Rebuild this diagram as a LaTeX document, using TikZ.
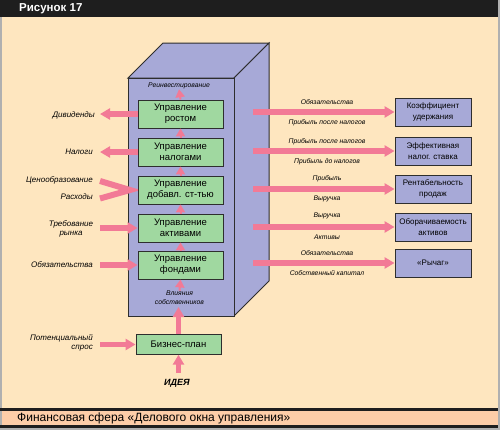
\documentclass[tikz,border=0pt]{standalone}
\usepackage{fontspec}
\setmainfont{Liberation Sans}
\usetikzlibrary{arrows.meta}
\definecolor{peach}{HTML}{FEE6BF}
\definecolor{band}{HTML}{FDCDA8}
\definecolor{lav}{HTML}{A7A9D7}
\definecolor{grn}{HTML}{A0D8A0}
\definecolor{pinkc}{HTML}{F27A96}
\definecolor{edge}{HTML}{2E2E2E}
\definecolor{bar}{HTML}{1E1E1E}
\definecolor{rim}{HTML}{B0B0B0}
\begin{document}
\begin{tikzpicture}[x=1pt,y=-1pt,
  greenbox/.style={draw=edge, fill=grn, line width=0.9pt, minimum width=85pt, minimum height=28pt, inner sep=0pt, align=center, font=\fontsize{9.5}{11}\selectfont},
  bluebox/.style={draw=edge, fill=lav, line width=0.9pt, minimum width=76pt, minimum height=28pt, inner sep=0pt, align=center, font=\fontsize{8}{11}\selectfont},
  bigarrow/.style={draw=pinkc, line width=5.5pt, -{Triangle[width=11pt,length=10pt]}},
  smallarrow/.style={draw=pinkc, line width=2pt, -{Triangle[width=9pt,length=8pt]}},
  lbl/.style={font=\fontsize{8}{9}\selectfont\itshape, inner sep=0pt},
  rlbl/.style={font=\fontsize{6.8}{8.5}\selectfont\itshape, inner sep=0pt},
]
\useasboundingbox (0,0) rectangle (500,432);
% background frame
\fill[white] (0,0) rectangle (500,432);
\fill[rim] (0,0) rectangle (500,430);
\fill[peach] (1.5,17) rectangle (498,408);
\fill[bar] (0,0) rectangle (498,17);
\fill[bar] (0,408) rectangle (498,411);
\fill[band] (1.5,411) rectangle (498,425);
\fill[bar] (0,425) rectangle (498,428);
\node[anchor=west, text=white, inner sep=0pt, font=\bfseries\fontsize{11.5}{12}\selectfont] (title) at (19,9) {Рисунок 17};
\node[anchor=west, inner sep=0pt, font=\fontsize{12}{13}\selectfont] (caption) at (17,418.5) {Финансовая сфера «Делового окна управления»};

% cuboid
\filldraw[fill=lav, draw=edge, line width=1pt, line join=miter] (128,78) -- (163,43) -- (269,43) -- (234,78) -- cycle;
\filldraw[fill=lav, draw=edge, line width=1pt, line join=miter] (234,78) -- (269,43) -- (269,281) -- (234,316) -- cycle;
\filldraw[fill=lav, draw=edge, line width=1pt] (128,78) rectangle (234,316);

% converging arms (drawn under the boxes)
\coordinate (vc1) at (100,181);
\coordinate (vc2) at (100,198.5);
\coordinate (vtip) at (130,190);
\draw[pinkc, line width=6pt, line join=miter, miter limit=20] (vc1) -- (vtip) -- (vc2);

% green boxes
\node[greenbox] (g1) at (180.5,114) {Управление\\ростом};
\node[greenbox] (g2) at (180.5,152) {Управление\\налогами};
\node[greenbox] (g3) at (180.5,190) {Управление\\добавл. ст-тью};
\node[greenbox] (g4) at (180.5,228) {Управление\\активами};
\node[greenbox] (g5) at (180.5,265) {Управление\\фондами};
\node[greenbox, minimum height=19.5pt] (bp) at (178.5,344.5) {Бизнес-план};

% inner labels
\node[rlbl] (reinv) at (179,86) {Реинвестирование};
\node[rlbl, align=center] (vlian) at (179.5,297.5) {Влияния\\собственников};

% small up arrows
\draw[smallarrow] (g1.north) -- (reinv.south);
\draw[smallarrow] (g2.north) -- (g1.south);
\draw[smallarrow] (g3.north) -- (g2.south);
\draw[smallarrow] (g4.north) -- (g3.south);
\draw[smallarrow] (g5.north) -- (g4.south);
\draw[smallarrow] (vlian.north) -- (g5.south);

% bottom
\coordinate (bptip) at (178.5,307);
\draw[bigarrow] (bp.north) -- (bptip);
\node[font=\bfseries\itshape\fontsize{9}{10}\selectfont, inner sep=0pt] (idea) at (177,383) {ИДЕЯ};
\coordinate (ideatop) at (178.5,373);
\draw[bigarrow] (ideatop) -- (bp.south);
\node[lbl, anchor=east, align=right] (pot) at (93,342.5) {Потенциальный\\спрос};
\coordinate (potarr) at (100,344.5);
\draw[bigarrow] (potarr) -- (bp.west);

% left side
\node[lbl, anchor=east] (ldiv) at (95,115) {Дивиденды};
\coordinate (tdiv) at (100,114);
\draw[bigarrow] (g1.west) -- (tdiv);
\node[lbl, anchor=east] (lnal) at (93,152) {Налоги};
\coordinate (tnal) at (100,152);
\draw[bigarrow] (g2.west) -- (tnal);
\node[lbl, anchor=east] (lcen) at (93,180) {Ценообразование};
\node[lbl, anchor=east] (lras) at (93,197) {Расходы};
\node[lbl, align=center] (ltreb) at (71,229) {Требование\\рынка};
\coordinate (ttreb) at (100,228);
\draw[bigarrow] (ttreb) -- (g4.west);
\node[lbl, anchor=east] (lobz) at (93,265) {Обязательства};
\coordinate (tobz) at (100,265);
\draw[bigarrow] (tobz) -- (g5.west);

% right side
\node[bluebox] (b1) at (433,112) {Коэффициент\\удержания};
\node[bluebox] (b2) at (433,151) {Эффективная\\налог. ставка};
\node[bluebox] (b3) at (433,189) {Рентабельность\\продаж};
\node[bluebox] (b4) at (433,227) {Оборачиваемость\\активов};
\node[bluebox] (b5) at (433,263) {«Рычаг»};
\coordinate (s1) at (253,112);
\coordinate (s2) at (253,151);
\coordinate (s3) at (253,189);
\coordinate (s4) at (253,227);
\coordinate (s5) at (253,263);
\draw[bigarrow] (s1) -- (b1.west);
\draw[bigarrow] (s2) -- (b2.west);
\draw[bigarrow] (s3) -- (b3.west);
\draw[bigarrow] (s4) -- (b4.west);
\draw[bigarrow] (s5) -- (b5.west);
\node[rlbl] (a1) at (327,102) {Обязательства};
\node[rlbl] (u1) at (327,122.5) {Прибыль после налогов};
\node[rlbl] (a2) at (327,141.5) {Прибыль после налогов};
\node[rlbl] (u2) at (327,161.5) {Прибыль до налогов};
\node[rlbl] (a3) at (327,179) {Прибыль};
\node[rlbl] (u3) at (327,199) {Выручка};
\node[rlbl] (a4) at (327,216) {Выручка};
\node[rlbl] (u4) at (327,237) {Активы};
\node[rlbl] (a5) at (327,253.5) {Обязательства};
\node[rlbl] (u5) at (327,273) {Собственный капитал};
\end{tikzpicture}
\end{document}
